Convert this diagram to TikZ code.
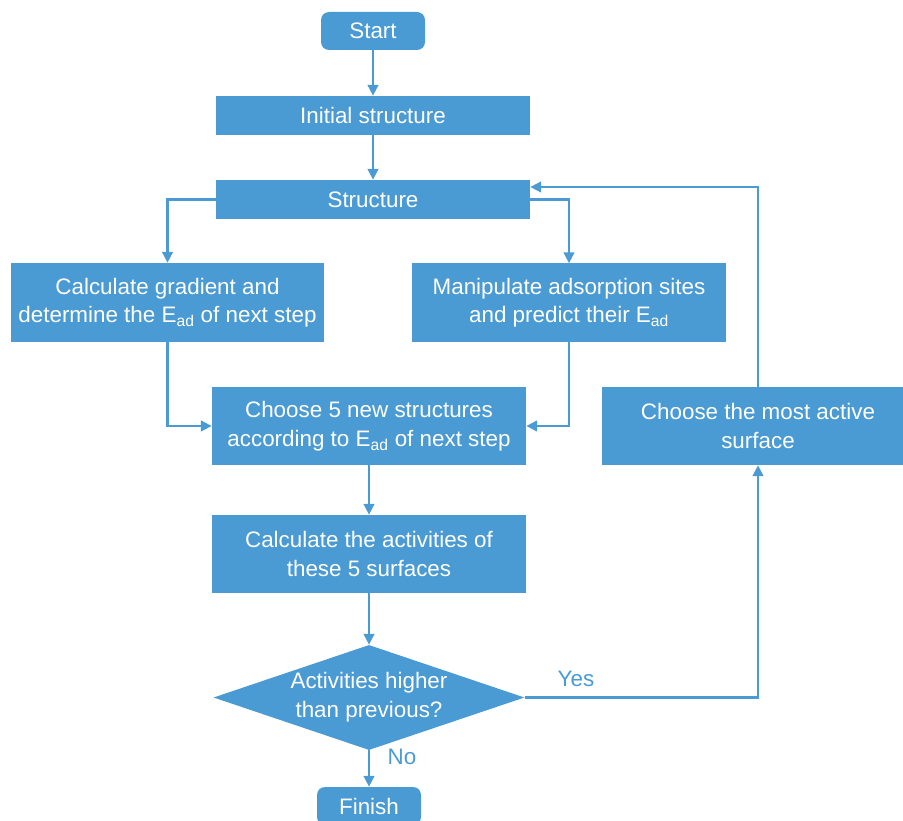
\documentclass[tikz,border=0pt]{standalone}
\usepackage{fontspec}
\setmainfont{Liberation Sans}
\usetikzlibrary{shapes.geometric,arrows.meta,positioning}
\definecolor{fcblue}{HTML}{4A9AD4}
\tikzset{
  box/.style={fill=fcblue,text=white,inner sep=0pt,align=center,font=\fontsize{22.4}{28.5}\selectfont},
  rbox/.style={box,rounded corners=8pt},
  dia/.style={diamond,fill=fcblue,inner sep=0pt,minimum width=311pt,minimum height=105pt},
  txt/.style={text=white,align=center,font=\fontsize{22.4}{28.5}\selectfont},
  lbl/.style={text=fcblue,font=\fontsize{22.4}{26}\selectfont},
  conn/.style={draw=fcblue,line width=2.6pt,-{Triangle[length=11pt,width=10.5pt]}}
}
\begin{document}
\begin{tikzpicture}[x=1pt,y=-1pt]
\useasboundingbox (0,0) rectangle (903,821);
\clip (0,0) rectangle (903,821);
\node[rbox,minimum width=104pt,minimum height=38pt] (start) at (373,31) {Start};
\node[box,minimum width=314pt,minimum height=39pt] (init) at (373,115.5) {Initial structure};
\node[box,minimum width=314pt,minimum height=39pt] (struct) at (373,199.5) {Structure};
\node[box,minimum width=313pt,minimum height=79pt] (grad) at (167.5,302.5) {Calculate gradient and\\determine the E\textsubscript{ad} of next step};
\node[box,minimum width=314pt,minimum height=78pt] (manip) at (569,302.5) {Manipulate adsorption sites\\and predict their E\textsubscript{ad}};
\node[box,minimum width=314pt,minimum height=78pt] (choose) at (369,426) {Choose 5 new structures\\according to E\textsubscript{ad} of next step};
\node[box,minimum width=314pt,minimum height=78pt] (calc) at (369,554) {Calculate the activities of\\these 5 surfaces};
\node[dia] (dec) at (369,697.5) {};
\node[txt] (dectxt) at (369,697) {Activities higher\\than previous?};
\node[rbox,minimum width=104pt,minimum height=38pt] (finish) at (369,806) {Finish};
\node[box,minimum width=312pt,minimum height=78pt] (active) at (758,426) {Choose the most active\\surface};

\draw[conn] (start) -- (init);
\draw[conn] (init) -- (struct);
\draw[conn] (struct.west) -| (grad.north);
\draw[conn] (struct.east) -| (manip.north);
\draw[conn] (grad.south) |- (choose.west);
\draw[conn] (manip.south) |- (choose.east);
\draw[conn] (choose) -- (calc);
\draw[conn] (calc) -- (dec.north);
\draw[conn] (dec.east) -| (active.south);
\draw[conn] (active.north) |- ([yshift=12.5pt]struct.east);
\draw[conn] (dec.south) -- (finish.north);
\node[lbl] (yes) at (576,679) {Yes};
\node[lbl] (no) at (402,757) {No};
\end{tikzpicture}
\end{document}
